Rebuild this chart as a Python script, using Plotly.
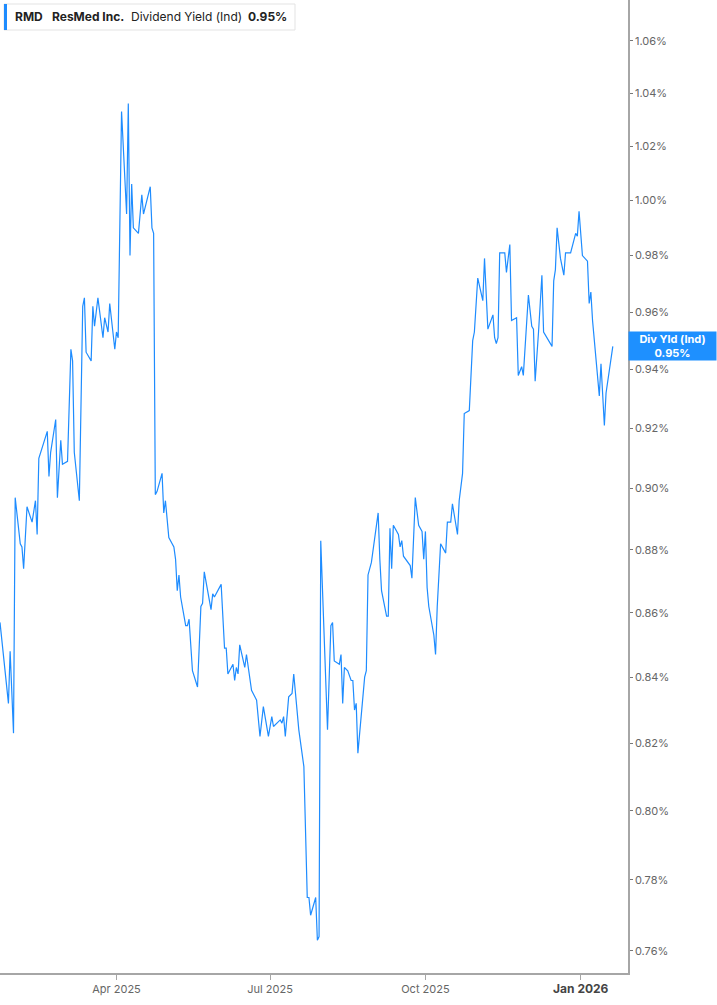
import numpy as np
import plotly.graph_objects as go

# RMD dividend yield (indicated), %
dates = [
    "2025-01-22", "2025-01-27", "2025-01-28", "2025-01-30", "2025-01-31",
    "2025-02-03", "2025-02-04", "2025-02-05", "2025-02-07", "2025-02-10",
    "2025-02-12", "2025-02-13", "2025-02-14", "2025-02-17", "2025-02-19",
    "2025-02-20", "2025-02-21", "2025-02-24", "2025-02-25", "2025-02-27",
    "2025-02-28", "2025-03-03", "2025-03-05", "2025-03-06", "2025-03-07",
    "2025-03-10", "2025-03-12", "2025-03-13", "2025-03-14", "2025-03-17",
    "2025-03-18", "2025-03-19", "2025-03-21", "2025-03-24", "2025-03-25",
    "2025-03-27", "2025-03-28", "2025-03-31", "2025-04-01", "2025-04-02",
    "2025-04-04", "2025-04-07", "2025-04-08", "2025-04-09", "2025-04-10",
    "2025-04-11", "2025-04-14", "2025-04-16", "2025-04-17", "2025-04-21",
    "2025-04-22", "2025-04-23", "2025-04-24", "2025-04-25", "2025-04-28",
    "2025-04-29", "2025-04-30", "2025-05-02", "2025-05-05", "2025-05-06",
    "2025-05-07", "2025-05-08", "2025-05-09", "2025-05-12", "2025-05-13",
    "2025-05-14", "2025-05-16", "2025-05-19", "2025-05-21", "2025-05-22",
    "2025-05-23", "2025-05-27", "2025-05-28", "2025-05-29", "2025-06-02",
    "2025-06-04", "2025-06-05", "2025-06-06", "2025-06-09", "2025-06-10",
    "2025-06-11", "2025-06-12", "2025-06-13", "2025-06-16", "2025-06-17",
    "2025-06-20", "2025-06-23", "2025-06-25", "2025-06-27", "2025-06-30",
    "2025-07-02", "2025-07-03", "2025-07-07", "2025-07-08", "2025-07-09",
    "2025-07-10", "2025-07-12", "2025-07-14", "2025-07-15", "2025-07-18",
    "2025-07-21", "2025-07-23", "2025-07-24", "2025-07-25", "2025-07-28",
    "2025-07-29", "2025-07-30", "2025-07-31", "2025-08-04", "2025-08-06",
    "2025-08-07", "2025-08-08", "2025-08-11", "2025-08-12", "2025-08-13",
    "2025-08-14", "2025-08-16", "2025-08-18", "2025-08-19", "2025-08-20",
    "2025-08-21", "2025-08-22", "2025-08-25", "2025-08-26", "2025-08-27",
    "2025-08-28", "2025-08-30", "2025-09-03", "2025-09-04", "2025-09-05",
    "2025-09-08", "2025-09-09", "2025-09-10", "2025-09-11", "2025-09-12",
    "2025-09-15", "2025-09-16", "2025-09-17", "2025-09-18", "2025-09-22",
    "2025-09-23", "2025-09-25", "2025-09-27", "2025-09-29", "2025-09-30",
    "2025-10-01", "2025-10-02", "2025-10-03", "2025-10-06", "2025-10-07",
    "2025-10-08", "2025-10-10", "2025-10-13", "2025-10-14", "2025-10-16",
    "2025-10-17", "2025-10-20", "2025-10-21", "2025-10-23", "2025-10-24",
    "2025-10-27", "2025-10-29", "2025-10-30", "2025-11-01", "2025-11-04",
    "2025-11-05", "2025-11-07", "2025-11-10", "2025-11-11", "2025-11-12",
    "2025-11-13", "2025-11-14", "2025-11-17", "2025-11-18", "2025-11-20",
    "2025-11-21", "2025-11-24", "2025-11-25", "2025-11-27", "2025-11-28",
    "2025-12-01", "2025-12-03", "2025-12-04", "2025-12-05", "2025-12-07",
    "2025-12-09", "2025-12-10", "2025-12-12", "2025-12-15", "2025-12-16",
    "2025-12-17", "2025-12-18", "2025-12-20", "2025-12-22", "2025-12-23",
    "2025-12-24", "2025-12-26", "2025-12-29", "2025-12-30", "2025-12-31",
    "2026-01-02", "2026-01-05", "2026-01-06", "2026-01-07", "2026-01-08",
    "2026-01-12", "2026-01-13", "2026-01-15", "2026-01-16", "2026-01-20",
]

div_yield = [
    0.857, 0.832, 0.848, 0.823, 0.897,
    0.882, 0.881, 0.874, 0.894, 0.889,
    0.896, 0.885, 0.910, 0.915, 0.919,
    0.904, 0.912, 0.923, 0.897, 0.916,
    0.908, 0.909, 0.947, 0.943, 0.912,
    0.896, 0.962, 0.965, 0.946, 0.943,
    0.962, 0.955, 0.965, 0.951, 0.958,
    0.953, 0.963, 0.947, 0.953, 0.951,
    1.033, 0.995, 1.036, 0.980, 1.006,
    0.990, 0.988, 1.002, 0.995, 1.005,
    0.990, 0.988, 0.898, 0.899, 0.905,
    0.892, 0.896, 0.884, 0.881, 0.877,
    0.867, 0.872, 0.865, 0.856, 0.856,
    0.858, 0.842, 0.837, 0.862, 0.863,
    0.873, 0.861, 0.866, 0.865, 0.869,
    0.849, 0.849, 0.841, 0.844, 0.839,
    0.843, 0.841, 0.850, 0.843, 0.847,
    0.836, 0.833, 0.822, 0.831, 0.822,
    0.828, 0.825, 0.827, 0.826, 0.828,
    0.822, 0.834, 0.835, 0.841, 0.824,
    0.813, 0.775, 0.775, 0.770, 0.775,
    0.763, 0.764, 0.883, 0.824, 0.856,
    0.857, 0.845, 0.844, 0.847, 0.832,
    0.843, 0.842, 0.839, 0.839, 0.830,
    0.832, 0.817, 0.834, 0.840, 0.842,
    0.872, 0.876, 0.892, 0.877, 0.867,
    0.859, 0.859, 0.887, 0.874, 0.888,
    0.885, 0.881, 0.883, 0.878, 0.875,
    0.871, 0.897, 0.888, 0.886, 0.877,
    0.886, 0.868, 0.862, 0.853, 0.847,
    0.862, 0.882, 0.879, 0.889, 0.889,
    0.895, 0.885, 0.896, 0.905, 0.925,
    0.926, 0.950, 0.953, 0.972, 0.964,
    0.979, 0.954, 0.959, 0.951, 0.949,
    0.951, 0.981, 0.981, 0.974, 0.984,
    0.957, 0.958, 0.938, 0.941, 0.938,
    0.966, 0.955, 0.954, 0.936, 0.953,
    0.973, 0.953, 0.951, 0.948, 0.971,
    0.975, 0.990, 0.979, 0.973, 0.981,
    0.981, 0.981, 0.988, 0.987, 0.996,
    0.980, 0.978, 0.963, 0.967, 0.957,
    0.931, 0.942, 0.921, 0.932, 0.948,
]
assert len(dates) == len(div_yield)

y_ticks = [0.76, 0.78, 0.80, 0.82, 0.84, 0.86, 0.88, 0.90, 0.92, 0.94, 0.96, 0.98, 1.00, 1.02, 1.04, 1.06]
y_labels = ["%.2f%%" % v for v in y_ticks]
x_ticks = ["2025-04-01", "2025-07-01", "2025-10-01", "2026-01-01"]
x_labels = ["Apr 2025", "Jul 2025", "Oct 2025",
            "<span style='font-size:12px;color:#444'><b>Jan 2026</b></span>"]

blue = "#1e8cff"
axis_grey = "#a6a6a6"
W, H = 717, 1005
L, R, T, B = 0, 89, 0, 32
pw, ph = W - L - R, H - T - B

fig = go.Figure()
fig.add_trace(go.Scatter(x=dates, y=div_yield, mode="lines",
                         line=dict(color=blue, width=1.2),
                         hoverinfo="x+y", showlegend=False))

# header box (top left), placed in pixels
def px_x(p):
    return p / pw

def px_y(p):
    return 1 - p / ph

shapes = [
    dict(type="rect", xref="paper", yref="paper",
         x0=px_x(4), x1=px_x(295), y0=px_y(30), y1=px_y(4),
         line=dict(color="#e3e3e3", width=1), fillcolor="white", layer="above"),
    dict(type="rect", xref="paper", yref="paper",
         x0=px_x(4), x1=px_x(7), y0=px_y(30), y1=px_y(4),
         line=dict(width=0), fillcolor=blue, layer="above"),
]

header = [("<b>RMD</b>", 13), ("<b>ResMed Inc.</b>", 50),
          ("Dividend Yield (Ind)", 129), ("<b>0.95%</b>", 246)]
annotations = []
for txt, xpos in header:
    annotations.append(dict(text=txt, xref="paper", yref="paper",
                            x=px_x(xpos), y=px_y(17), xanchor="left", yanchor="middle",
                            showarrow=False, font=dict(size=12, color="#222")))

# last value tag on the right axis
annotations.append(dict(text="<b>Div Yld (Ind)</b><br><b>%.2f%%</b>" % div_yield[-1],
                        xref="paper", yref="y", x=1, y=np.log10(div_yield[-1]),
                        xanchor="left", yanchor="middle", showarrow=False,
                        bgcolor="#1e90ff", width=83, height=24, borderpad=2,
                        font=dict(size=11, color="white"), align="center"))

fig.update_layout(
    width=W, height=H,
    margin=dict(l=L, r=R, t=T, b=B),
    paper_bgcolor="white", plot_bgcolor="white",
    font=dict(family="Inter, Roboto, sans-serif", size=11, color="#666"),
    shapes=shapes, annotations=annotations,
    xaxis=dict(type="date", range=["2025-01-22", "2026-01-29"],
               tickvals=x_ticks, ticktext=x_labels,
               showgrid=False, zeroline=False,
               showline=True, linecolor=axis_grey, linewidth=1.5,
               ticks="outside", ticklen=5, tickcolor=axis_grey,
               tickfont=dict(size=11, color="#666")),
    yaxis=dict(type="log", side="right",
               range=[np.log10(0.7539), np.log10(1.076)],
               tickvals=y_ticks, ticktext=y_labels,
               showgrid=False, zeroline=False,
               showline=True, linecolor=axis_grey, linewidth=1.5,
               ticks="outside", ticklen=3, tickcolor="#777",
               tickfont=dict(size=11, color="#666")),
)

# drop the browser's default 8px body margin so the figure sits at the window corner
fig.write_html("out.html", config={"displayModeBar": False},
               post_script="document.body.style.margin='0';")
